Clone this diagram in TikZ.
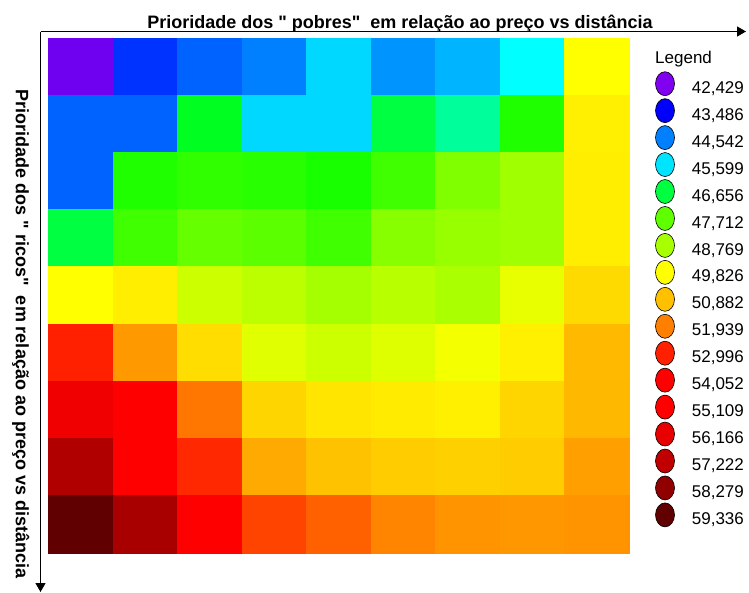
\documentclass[tikz,border=0pt]{standalone}
\usepackage{fontspec}
\setmainfont{Liberation Sans}[Ligatures=TeXOff]
\usetikzlibrary{arrows.meta,shapes.geometric}
\begin{document}
\begin{tikzpicture}[x=1pt,y=-1pt,
  axisline/.style={line width=1.3pt,-{Triangle[length=9pt,width=10pt]}},
  titletext/.style={font=\bfseries\fontsize{18}{20}\selectfont,inner sep=0pt},
  legtext/.style={font=\fontsize{17}{19}\selectfont,inner sep=0pt,anchor=base west},
  legdot/.style={draw=black,line width=0.6pt,ellipse,minimum width=19pt,minimum height=24pt,inner sep=0pt}]
\useasboundingbox (0,0) rectangle (749,592);
% heat map cells
\foreach \row [count=\i from 0] in {
 {7000F0,0033FF,0062FF,0080FF,00D8FF,0094FF,00B4FF,00FFFF,FFFF00},
 {0062FF,0062FF,00FF20,00D8FF,00D8FF,00FF40,00FF9A,20FF00,FFEF00},
 {0062FF,20FF00,30FF00,28FF00,18FF00,40FF00,80FF00,A0FF00,FFEE00},
 {00FF40,40FF00,66FF00,5CFF00,40FF00,88FF00,98FF00,A0FF00,FFEE00},
 {FFFF00,FFEE00,CCFF00,BBFF00,A6FF00,B8FF00,AAFF00,E8FF00,FFDA00},
 {FF2000,FF9900,FFDD00,E0FF00,CCFF00,DDFF00,F4FF00,FFF000,FFBA00},
 {F00000,FF0000,FF7700,FFD500,FFE500,FFEB00,FFF000,FFD500,FFB800},
 {B00000,FF0000,FF2800,FFAA00,FFC200,FFCC00,FFD000,FFCC00,FFA000},
 {600000,A80000,FF0000,FF4400,FF6000,FF8400,FF9400,FF9700,FF9300}}
{
  \foreach \c [count=\j from 0] in \row {
    \definecolor{cellcol}{HTML}{\c}
    \fill[cellcol,draw=cellcol,line width=0.3pt] (48.2+64.5*\j,37.7+57.22*\i) rectangle ++(64.5,57.22);
  }
}
% axes
\coordinate (origin) at (40.5,31.5);
\coordinate (xend) at (746,31.5);
\coordinate (yend) at (40.5,592);
\draw[axisline] (origin) -- (xend);
\draw[axisline] (origin) -- (yend);
% axis titles
\node[titletext,anchor=base] (xtitle) at (400,28.3) {Prioridade dos "\ pobres"\ \ em relação ao preço vs distância};
\node[titletext,anchor=base,rotate=-90] (ytitle) at (16,334) {Prioridade dos "\ ricos"\ \ em relação ao preço vs distância};
% legend
\node[legtext] (legtitle) at (655,63.3) {Legend};
\foreach \c/\v [count=\k from 0] in {
 8000F0/{42,429},0000FF/{43,486},0080FF/{44,542},00E4FF/{45,599},
 00FF40/{46,656},60FF00/{47,712},A8FF00/{48,769},FFFF00/{49,826},
 FFC000/{50,882},FF8000/{51,939},FF2000/{52,996},FF0000/{54,052},
 FF0000/{55,109},E80000/{56,166},C00000/{57,222},900000/{58,279},
 600000/{59,336}}
{
  \definecolor{legcol}{HTML}{\c}
  \node[legdot,fill=legcol] (dot\k) at (665,83.7+26.95*\k) {};
  \node[legtext] (val\k) at (691.7,93.3+26.95*\k) {\v};
}
\end{tikzpicture}
\end{document}
